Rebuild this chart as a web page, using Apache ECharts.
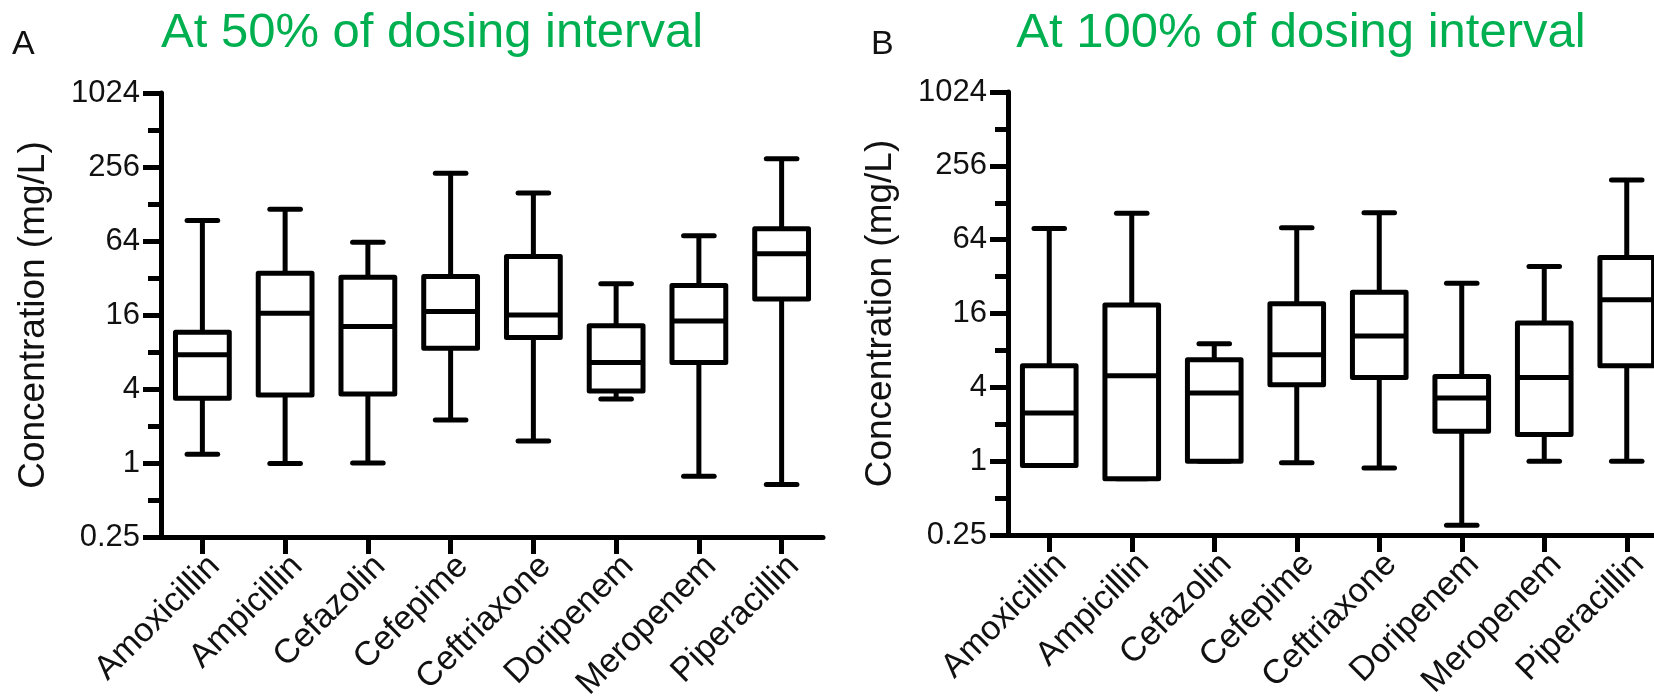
<!DOCTYPE html>
<html><head><meta charset="utf-8">
<script src="https://cdn.jsdelivr.net/npm/echarts@6/dist/echarts.min.js"></script>
<style>html,body{margin:0;padding:0;background:#fff}#c{width:1654px;height:699px}</style>
</head><body><div id="c"></div>
<script>
const categories = ['Amoxicillin','Ampicillin','Cefazolin','Cefepime','Ceftriaxone','Doripenem','Meropenem','Piperacillin'];
const yTickValues = [0.25, 1, 4, 16, 64, 256, 1024];
const yTickLabels = ['0.25', '1', '4', '16', '64', '256', '1024'];
const titleA = 'At 50% of dosing interval';
const titleB = 'At 100% of dosing interval';
const yName = 'Concentration (mg/L)';

// Panel A: at 50% of dosing interval
const aMin = [1.18, 0.99, 1.0, 2.24, 1.51, 3.32, 0.78, 0.67];
const aQ1  = [3.36, 3.58, 3.65, 8.6, 10.5, 3.86, 6.56, 21.6];
const aMed = [7.6, 16.5, 12.9, 17.1, 16.0, 6.56, 14.3, 50.3];
const aQ3  = [11.6, 35, 32.5, 32.9, 47.9, 13.1, 27.8, 80.5];
const aMax = [94, 116, 62.6, 228, 157, 28.7, 70.6, 299];

// Panel B: at 100% of dosing interval
const bMin = [0.92, 0.72, 1.0, 0.97, 0.88, 0.30, 1.0, 1.0];
const bQ1  = [0.92, 0.72, 1.0, 4.2, 4.82, 1.75, 1.65, 6.0];
const bMed = [2.47, 4.98, 3.6, 7.38, 10.5, 3.28, 4.82, 20.7];
const bQ3  = [6.0, 18.8, 6.72, 19.2, 23.9, 4.91, 13.4, 45.7];
const bMax = [79, 105, 9.06, 80, 106, 28.2, 38.6, 196];

const FONT = 'Liberation Sans, Arial, sans-serif';
const INK = '#111';

function rows(mn, q1, md, q3, mx) {
  return categories.map((c, i) => [i, mn[i], q1[i], md[i], q3[i], mx[i]]);
}

function renderBox(params, api) {
  const i = api.value(0);
  const pMin = api.coord([i, api.value(1)]);
  const pQ1 = api.coord([i, api.value(2)]);
  const pMed = api.coord([i, api.value(3)]);
  const pQ3 = api.coord([i, api.value(4)]);
  const pMax = api.coord([i, api.value(5)]);
  const band = api.coord([1, api.value(3)])[0] - api.coord([0, api.value(3)])[0];
  const bw = band * 0.65, cw = band * 0.37;
  const x = pMed[0];
  const ls = { stroke: '#000', lineWidth: 5, fill: null };
  const cap = { stroke: '#000', lineWidth: 5, fill: null, lineCap: 'round' };
  return {
    type: 'group',
    children: [
      { type: 'line', shape: { x1: x, y1: pMax[1], x2: x, y2: pQ3[1] }, style: ls },
      { type: 'line', shape: { x1: x, y1: pQ1[1], x2: x, y2: pMin[1] }, style: ls },
      { type: 'line', shape: { x1: x - cw / 2, y1: pMax[1], x2: x + cw / 2, y2: pMax[1] }, style: cap },
      { type: 'line', shape: { x1: x - cw / 2, y1: pMin[1], x2: x + cw / 2, y2: pMin[1] }, style: cap },
      { type: 'rect', shape: { x: x - bw / 2, y: pQ3[1], width: bw, height: pQ1[1] - pQ3[1] },
        style: { stroke: '#000', lineWidth: 5, fill: '#fff', lineJoin: 'round' } },
      { type: 'line', shape: { x1: x - bw / 2, y1: pMed[1], x2: x + bw / 2, y2: pMed[1] }, style: ls }
    ]
  };
}

function xAxisCfg(gi) {
  return {
    gridIndex: gi, type: 'category', data: categories, boundaryGap: true,
    axisLine: { lineStyle: { color: '#000', width: 5 } },
    axisTick: { show: true, alignWithLabel: true, length: 17, lineStyle: { color: '#000', width: 5 } },
    axisLabel: { rotate: 45, interval: 0, fontSize: 34, color: INK, fontFamily: FONT, margin: 12,
                 align: 'right', verticalAlign: 'top' },
    splitLine: { show: false }
  };
}
function yAxisMajor(gi) {
  return {
    gridIndex: gi, type: 'log', logBase: 2, min: 0.25, max: 1024, interval: 2,
    position: 'left', offset: 0,
    name: yName, nameLocation: 'middle', nameGap: 109, nameRotate: 90,
    nameTextStyle: { fontSize: 37, color: INK, fontFamily: FONT },
    axisLine: { show: true, lineStyle: { color: '#000', width: 5 } },
    axisTick: { show: true, length: 18, lineStyle: { color: '#000', width: 5 } },
    axisLabel: {
      fontSize: 31, color: INK, fontFamily: FONT, margin: 21,
      formatter: v => {
        const k = yTickValues.findIndex(t => Math.abs(Math.log2(t) - Math.log2(v)) < 1e-6);
        return k >= 0 ? yTickLabels[k] : '';
      }
    },
    splitLine: { show: false }
  };
}
function yAxisMinor(gi) {
  return {
    gridIndex: gi, type: 'log', logBase: 2, min: 0.25, max: 1024, interval: 1,
    position: 'left', offset: 0,
    axisLine: { show: false },
    axisTick: { show: true, length: 13, lineStyle: { color: '#000', width: 5 } },
    axisLabel: { show: false },
    splitLine: { show: false }
  };
}

const chart = echarts.init(document.getElementById('c'), null, { renderer: 'canvas' });
chart.setOption({
  backgroundColor: '#ffffff',
  animation: false,
  graphic: [
    { type: 'text', x: 432, y: 33, style: { text: titleA, fill: '#00B050', font: '49px ' + FONT, align: 'center', verticalAlign: 'middle' } },
    { type: 'text', x: 1301, y: 33, style: { text: titleB, fill: '#00B050', font: '49px ' + FONT, align: 'center', verticalAlign: 'middle' } },
    { type: 'text', x: 12, y: 45, style: { text: 'A', fill: INK, font: '34px ' + FONT, align: 'left', verticalAlign: 'middle' } },
    { type: 'text', x: 871, y: 45, style: { text: 'B', fill: INK, font: '34px ' + FONT, align: 'left', verticalAlign: 'middle' } }
  ],
  grid: [
    { left: 161, top: 93, width: 662, height: 444, containLabel: false, outerBoundsMode: 'none' },
    { left: 1008, top: 92, width: 660, height: 443, containLabel: false, outerBoundsMode: 'none' }
  ],
  xAxis: [xAxisCfg(0), xAxisCfg(1)],
  yAxis: [yAxisMinor(0), yAxisMajor(0), yAxisMinor(1), yAxisMajor(1)],
  series: [
    { type: 'custom', xAxisIndex: 0, yAxisIndex: 1, renderItem: renderBox,
      encode: { x: 0, y: [1, 2, 3, 4, 5] }, data: rows(aMin, aQ1, aMed, aQ3, aMax), clip: false },
    { type: 'custom', xAxisIndex: 1, yAxisIndex: 3, renderItem: renderBox,
      encode: { x: 0, y: [1, 2, 3, 4, 5] }, data: rows(bMin, bQ1, bMed, bQ3, bMax), clip: false }
  ]
});
</script></body></html>
